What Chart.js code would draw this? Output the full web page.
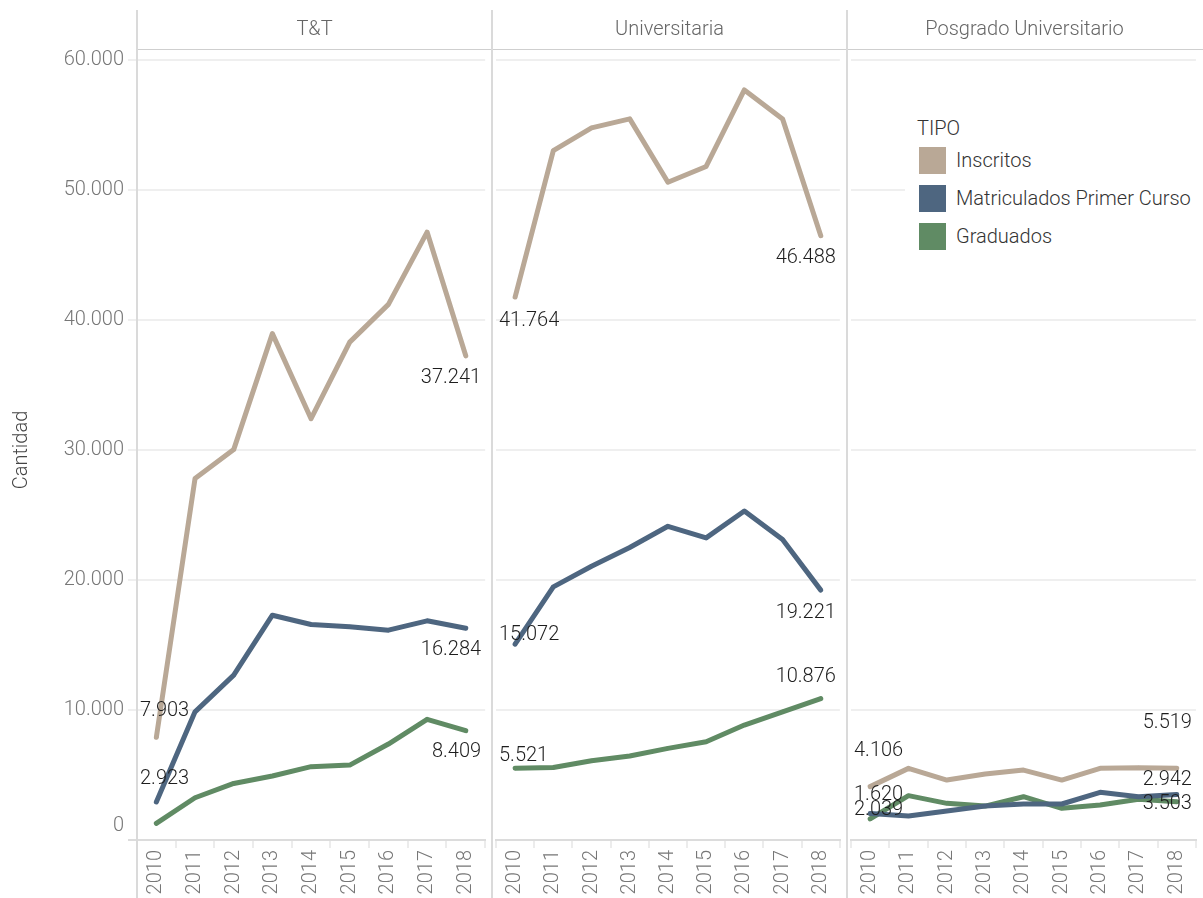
<!DOCTYPE html>
<html>
<head>
    <title>Inscritos, matriculados y graduados</title>
    <script src="https://cdn.jsdelivr.net/npm/chart.js"></script>
    <style>
        body { margin: 0; background: #fff; font-family: Roboto, sans-serif; }
        #wrap { position: relative; width: 1203px; height: 898px; overflow: hidden; }
        canvas { position: absolute; top: 0; }
        .vline { position: absolute; top: 10px; bottom: 0; width: 2px; background: #dadada; }
        .hline { position: absolute; top: 49px; left: 137px; right: 0; height: 1px; background: #cfcfcf; }
        .axisstub { position: absolute; top: 839px; left: 128px; width: 9px; height: 2px; background: #dcdcdc; }
        .title { position: absolute; top: 16px; width: 355px; text-align: center; font-size: 20px; font-weight: 300; color: #666; line-height: 24px; }
        #legend { position: absolute; left: 905px; top: 108px; width: 298px; height: 150px; background: #fff; color: #333; font-size: 20px; font-weight: 300; }
        #legend .head { position: absolute; left: 12px; top: 8px; line-height: 24px; }
        #legend .item { position: absolute; left: 14px; height: 27px; line-height: 27px; white-space: nowrap; }
        #legend .sw { display: inline-block; width: 27px; height: 27px; vertical-align: top; margin-right: 10px; }
    </style>
</head>
<body>
<div id="wrap">
    <canvas id="c0" width="492" height="898" style="left:0"></canvas>
    <canvas id="c1" width="355" height="898" style="left:492px"></canvas>
    <canvas id="c2" width="356" height="898" style="left:847px"></canvas>
    <div class="hline"></div>
    <div class="axisstub"></div>
    <div class="vline" style="left:136px"></div>
    <div class="vline" style="left:491px"></div>
    <div class="vline" style="left:846px"></div>
    <div class="title" style="left:137px">T&amp;T</div>
    <div class="title" style="left:492px">Universitaria</div>
    <div class="title" style="left:847px">Posgrado Universitario</div>
    <div id="legend"></div>
</div>
<script>
    const years = ['2010', '2011', '2012', '2013', '2014', '2015', '2016', '2017', '2018'];
    const panels = ['T&T', 'Universitaria', 'Posgrado Universitario'];
    const tipos = ['Inscritos', 'Matriculados Primer Curso', 'Graduados'];
    const colors = ['#b9a896', '#4e6680', '#608b64'];

    const ttInscritos = [7903, 27800, 30030, 38950, 32410, 38300, 41200, 46760, 37241];
    const ttMatriculados = [2923, 9860, 12680, 17290, 16580, 16400, 16140, 16860, 16284];
    const ttGraduados = [1280, 3250, 4350, 4920, 5640, 5760, 7380, 9280, 8409];

    const uniInscritos = [41764, 53030, 54780, 55470, 50600, 51810, 57700, 55470, 46488];
    const uniMatriculados = [15072, 19470, 21060, 22500, 24130, 23240, 25310, 23110, 19221];
    const uniGraduados = [5521, 5580, 6100, 6460, 7050, 7560, 8840, 9860, 10876];

    const posInscritos = [4106, 5510, 4610, 5070, 5380, 4610, 5510, 5560, 5519];
    const posMatriculados = [2039, 1840, 2230, 2610, 2770, 2770, 3670, 3330, 3503];
    const posGraduados = [1620, 3410, 2820, 2610, 3330, 2440, 2690, 3130, 2942];

    const yTicks = [0, 10000, 20000, 30000, 40000, 50000, 60000];

    // vertical offset of first / last value label from its point (null = no label)
    const labelOffsets = [
        [[-26, 22], [-23, 22], [null, 21]],
        [[24, 22], [-9, 23], [-12, -22]],
        [[-36, -45], [-3, 10], [-24, -22]]
    ];

    const fmt = v => String(v).replace(/\B(?=(\d{3})+(?!\d))/g, '.');

    Chart.defaults.font.family = 'Roboto';
    Chart.defaults.font.size = 20;

    const endLabels = {
        id: 'endLabels',
        afterDatasetsDraw(chart, args, opts) {
            const ctx = chart.ctx;
            const area = chart.chartArea;
            ctx.save();
            ctx.font = '300 20px Roboto';
            ctx.fillStyle = '#1e1e1e';
            ctx.textBaseline = 'middle';
            chart.data.datasets.forEach((ds, i) => {
                const pts = chart.getDatasetMeta(i).data;
                const off = opts.offsets[i];
                if (off[0] !== null) {
                    ctx.textAlign = 'left';
                    ctx.fillText(fmt(ds.data[0]), area.left + 3, pts[0].y + off[0]);
                }
                if (off[1] !== null) {
                    ctx.textAlign = 'right';
                    ctx.fillText(fmt(ds.data[ds.data.length - 1]), area.right - 4, pts[pts.length - 1].y + off[1]);
                }
            });
            ctx.restore();
        }
    };

    // lift the "0" tick label off the x axis, like the original
    const liftZero = {
        id: 'liftZero',
        beforeDraw(chart) {
            const y = chart.scales.y;
            if (!y || !y.options.ticks.display) return;
            const item = y.getLabelItems().find(it => it.label === '0');
            if (item && !item._lifted) {
                item.options.translation[1] -= 14;
                item._lifted = true;
            }
        }
    };

    function makeChart(id, idx, series) {
        const first = idx === 0;
        return new Chart(document.getElementById(id), {
            type: 'line',
            data: {
                labels: years,
                datasets: series.map((d, i) => ({
                    label: tipos[i],
                    data: d,
                    borderColor: colors[i],
                    backgroundColor: colors[i],
                    borderWidth: 5,
                    pointRadius: 2,
                    pointBorderWidth: 0,
                    borderCapStyle: 'round',
                    borderJoinStyle: 'round',
                    tension: 0
                }))
            },
            plugins: [endLabels, liftZero],
            options: {
                responsive: false,
                animation: false,
                layout: { padding: { top: 60, right: 0, bottom: 0, left: 0 } },
                plugins: {
                    legend: { display: false },
                    tooltip: { enabled: false },
                    endLabels: { offsets: labelOffsets[idx] }
                },
                scales: {
                    x: {
                        type: 'category',
                        offset: true,
                        grid: { offset: true, drawOnChartArea: false, drawTicks: true, tickLength: 8, color: '#ececec', lineWidth: 2 },
                        border: { display: true, color: '#dcdcdc', width: 2 },
                        ticks: { minRotation: 90, maxRotation: 90, padding: 2, color: '#777', font: { size: 20, weight: '300' }, autoSkip: false },
                        afterFit: s => { s.height = 58; }
                    },
                    y: {
                        min: 0,
                        max: 60000,
                        afterBuildTicks: s => { s.ticks = yTicks.map(v => ({ value: v })); },
                        grid: { color: '#efefef', lineWidth: 2, drawTicks: first, tickLength: 9 },
                        border: { display: false },
                        ticks: {
                            display: first,
                            padding: 4,
                            color: '#777',
                            font: { size: 20, weight: '300' },
                            callback: v => fmt(v)
                        },
                        title: {
                            display: first,
                            text: 'Cantidad',
                            color: '#444',
                            font: { size: 20, weight: '300' },
                            padding: { top: 10, bottom: 0 }
                        },
                        afterFit: s => { s.width = first ? 137 : 0; }
                    }
                }
            }
        });
    }

    makeChart('c0', 0, [ttInscritos, ttMatriculados, ttGraduados]);
    makeChart('c1', 1, [uniInscritos, uniMatriculados, uniGraduados]);
    makeChart('c2', 2, [posInscritos, posMatriculados, posGraduados]);

    const legend = document.getElementById('legend');
    let html = '<div class="head">TIPO</div>';
    tipos.forEach((t, i) => {
        html += '<div class="item" style="top:' + (39 + i * 38) + 'px"><span class="sw" style="background:' + colors[i] + '"></span>' + t + '</div>';
    });
    legend.innerHTML = html;
</script>
</body>
</html>
